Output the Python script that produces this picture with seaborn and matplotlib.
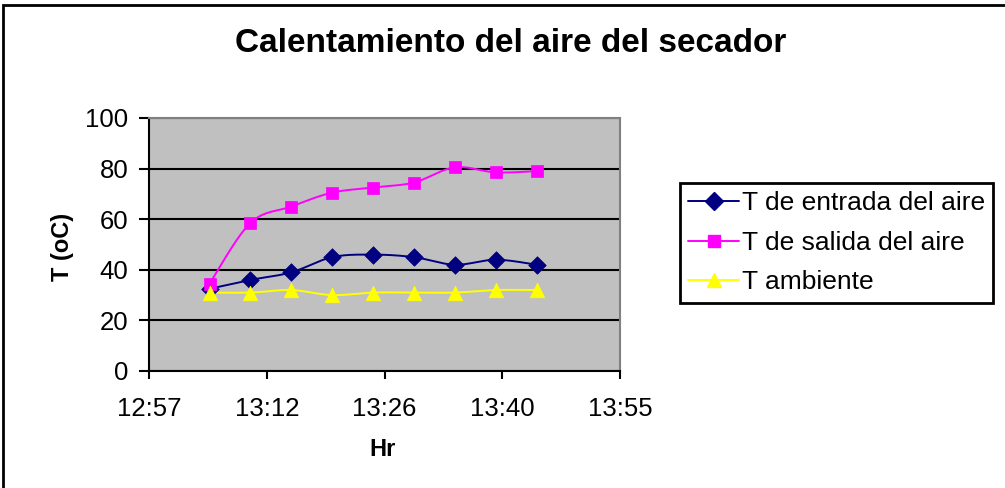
import numpy as np
import pandas as pd
import matplotlib
matplotlib.use("Agg")
import matplotlib.pyplot as plt
from matplotlib.lines import Line2D
from matplotlib.patches import Rectangle
import seaborn as sns

# ---- data ----
horas = ["13:05", "13:10", "13:15", "13:20", "13:25", "13:30", "13:35", "13:40", "13:45"]
t_entrada = [32.5, 36, 39, 45, 46, 45, 42, 44, 42]
t_salida = [34.5, 58.5, 65, 70.5, 72.5, 74.5, 80.5, 78.5, 79]
t_ambiente = [31, 31, 32, 30, 31, 31, 31, 32, 32]
series_names = ["T de entrada del aire", "T de salida del aire", "T ambiente"]
x_ticks_days = [0.54, 0.55, 0.56, 0.57, 0.58]
x_tick_labels = ["12:57", "13:12", "13:26", "13:40", "13:55"]
y_ticks = [0, 20, 40, 60, 80, 100]

def to_day(h):
    hh, mm = h.split(":")
    return (int(hh) * 60 + int(mm)) / 1440.0

x = np.array([to_day(h) for h in horas])

rows = []
for name, vals in zip(series_names, [t_entrada, t_salida, t_ambiente]):
    for xi, v in zip(x, vals):
        rows.append({"x": xi, "T": v, "serie": name})
df = pd.DataFrame(rows)

colors = {"T de entrada del aire": "#000080",
          "T de salida del aire": "#FF00FF",
          "T ambiente": "#FFFF00"}
markers = {"T de entrada del aire": "D",
           "T de salida del aire": "s",
           "T ambiente": "^"}
msizes = {"T de entrada del aire": 80, "T de salida del aire": 78, "T ambiente": 110}

def smooth(xs, ys, n=30):
    # Bezier smoothing like Excel's "smoothed line" (rendering only)
    P = np.column_stack([xs, ys])
    m = len(P)
    out = []
    for i in range(m - 1):
        p0 = P[i - 1] if i > 0 else P[i]
        p1 = P[i]
        p2 = P[i + 1]
        p3 = P[i + 2] if i + 2 < m else P[i + 1]
        c1 = p1 + (p2 - p0) / 6.0
        c2 = p2 - (p3 - p1) / 6.0
        t = np.linspace(0, 1, n)[:, None]
        seg = ((1 - t) ** 3) * p1 + 3 * ((1 - t) ** 2) * t * c1 + 3 * (1 - t) * t ** 2 * c2 + t ** 3 * p2
        out.append(seg if i == 0 else seg[1:])
    out = np.vstack(out)
    return out[:, 0], out[:, 1]

sns.set_theme(style="white")
plt.rcParams["font.family"] = ["Liberation Sans", "DejaVu Sans"]
plt.rcParams["text.color"] = "black"
plt.rcParams["xtick.color"] = "black"
plt.rcParams["ytick.color"] = "black"
plt.rcParams["axes.labelcolor"] = "black"

fig = plt.figure(figsize=(10.05, 4.88), dpi=100)
fig.patch.set_facecolor("white")
ax = fig.add_axes([149 / 1005, 1 - 371 / 488, (620 - 149) / 1005, (371 - 118) / 488])
ax.set_facecolor("#C0C0C0")

for name in series_names:
    sub = df[df["serie"] == name]
    sx, sy = smooth(sub["x"].values, sub["T"].values)
    ax.plot(sx, sy, color=colors[name], lw=1.4, zorder=3)
for name in series_names:
    sub = df[df["serie"] == name]
    sns.scatterplot(data=sub, x="x", y="T", marker=markers[name], color=colors[name],
                    s=msizes[name], edgecolor=colors[name], linewidth=0.5, ax=ax, zorder=4,
                    legend=False)

ax.set_xlim(x_ticks_days[0], x_ticks_days[-1])
ax.set_ylim(0, 100)
ax.set_xticks(x_ticks_days)
ax.set_xticklabels(x_tick_labels)
ax.set_yticks(y_ticks)
ax.yaxis.grid(True, color="black", lw=1.5)
ax.xaxis.grid(False)
ax.set_axisbelow(True)

for s in ["left", "bottom"]:
    ax.spines[s].set_color("black")
    ax.spines[s].set_linewidth(1.5)
for s in ["top", "right"]:
    ax.spines[s].set_color("#808080")
    ax.spines[s].set_linewidth(1.5)

ax.tick_params(axis="x", direction="out", length=6, width=1.5, colors="black",
               pad=13, labelsize=18.5, bottom=True)
ax.tick_params(axis="y", direction="out", length=7, width=1.5, colors="black",
               pad=8, labelsize=18.5, left=True)
ax.set_xlabel("")
ax.set_ylabel("")

fig.text(511 / 1005, 1 - 43 / 488, "Calentamiento del aire del secador",
         ha="center", va="center", fontsize=24, fontweight="bold", color="black")
fig.text(62 / 1005, 1 - 247 / 488, "T (oC)", rotation=90, ha="center", va="center",
         fontsize=17, fontweight="bold", color="black")
fig.text(383 / 1005, 1 - 450 / 488, "Hr", ha="center", va="center",
         fontsize=17, fontweight="bold", color="black")

handles = [Line2D([0], [0], color=colors[n], marker=markers[n], lw=1.4,
                  markersize=9 if n != "T ambiente" else 10.5,
                  markerfacecolor=colors[n], markeredgecolor=colors[n])
           for n in series_names]
leg = fig.legend(handles, series_names, loc="upper left",
                 bbox_to_anchor=(680 / 1005, 1 - 183 / 488),
                 fontsize=19, frameon=True, fancybox=False, framealpha=1,
                 edgecolor="black", handlelength=1.9, handletextpad=0.12,
                 labelspacing=0.58, borderpad=0.32, borderaxespad=0)
leg.get_frame().set_linewidth(2)
for t in leg.get_texts():
    t.set_color("black")

fig.patches.append(Rectangle((3 / 1005, -0.5), 1.5, 0.5 + (1 - 5 / 488),
                             transform=fig.transFigure, fill=False,
                             edgecolor="black", lw=2))

fig.savefig("out.png", dpi=100)
